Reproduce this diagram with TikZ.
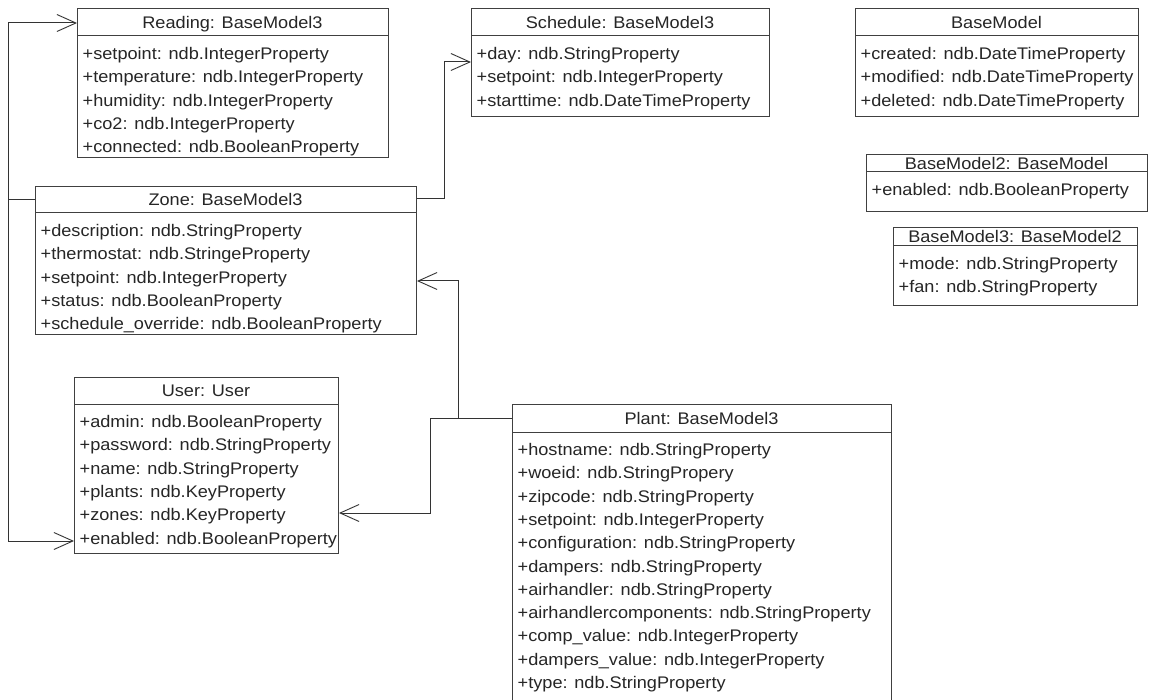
\documentclass[tikz,border=0pt]{standalone}
\usepackage{fontspec}
\setmainfont{Liberation Sans}[FakeStretch=1.08]
\usetikzlibrary{arrows.meta, positioning}

% #1 name, #2 left, #3 top, #4 width, #5 height, #6 header height, #7 title, #8 rows
\newcommand{\umlclass}[8]{%
  \node[classbox, minimum width=#4pt, minimum height=#5pt, anchor=north west] (#1) at (#2,#3) {};
  \draw[headline] (#2,#3+#6) -- (#2+#4,#3+#6);
  \node[titletext] (#1-title) at (#2+#4/2,#3+#6/2+6.2) {#7};
  \foreach \row [count=\i] in {#8} {
    \node[rowtext] (#1-\i) at ({#2+5.5},{#3+#6+23.5+(\i-1)*23.3}) {\row};
  }
}

\begin{document}
\begin{tikzpicture}[x=1pt, y=-1pt,
  classbox/.style={draw=black!75, line width=1pt, fill=white, inner sep=0pt},
  headline/.style={draw=black!75, line width=1pt},
  titletext/.style={inner sep=0pt, anchor=base, font=\fontsize{16.8}{20}\selectfont, text=black!85},
  rowtext/.style={inner sep=0pt, anchor=base west, font=\fontsize{16.8}{20}\selectfont, text=black!85},
  assoc/.style={draw=black!80, line width=1pt, -{Straight Barb[length=19pt, width=17pt, line width=0.9pt]}}]

\fill[white] (0,0) rectangle (1150,700);
\useasboundingbox (0,0) rectangle (1150,700);

\umlclass{reading}{77}{8}{311}{149}{28}{Reading: BaseModel3}{+setpoint: ndb.IntegerProperty, +temperature: ndb.IntegerProperty, +humidity: ndb.IntegerProperty, +co2: ndb.IntegerProperty, +connected: ndb.BooleanProperty}
\umlclass{schedule}{471}{8}{298}{108}{28}{Schedule: BaseModel3}{+day: ndb.StringProperty, +setpoint: ndb.IntegerProperty, +starttime: ndb.DateTimeProperty}
\umlclass{basemodel}{855}{8}{283}{108}{28}{BaseModel}{+created: ndb.DateTimeProperty, +modified: ndb.DateTimeProperty, +deleted: ndb.DateTimeProperty}
\umlclass{basemodeltwo}{866}{154}{281}{57}{18}{BaseModel2: BaseModel}{+enabled: ndb.BooleanProperty}
\umlclass{basemodelthree}{893}{227}{244}{78}{19}{BaseModel3: BaseModel2}{+mode: ndb.StringProperty, +fan: ndb.StringProperty}
\umlclass{zone}{35}{186}{381}{148}{27}{Zone: BaseModel3}{+description: ndb.StringProperty, +thermostat: ndb.StringeProperty, +setpoint: ndb.IntegerProperty, +status: ndb.BooleanProperty, +schedule\_override: ndb.BooleanProperty}
\umlclass{user}{74}{377}{264}{176}{27}{User: User}{+admin: ndb.BooleanProperty, +password: ndb.StringProperty, +name: ndb.StringProperty, +plants: ndb.KeyProperty, +zones: ndb.KeyProperty, +enabled: ndb.BooleanProperty}
\umlclass{plant}{512}{404}{379}{298}{28}{Plant: BaseModel3}{+hostname: ndb.StringProperty, +woeid: ndb.StringPropery, +zipcode: ndb.StringProperty, +setpoint: ndb.IntegerProperty, +configuration: ndb.StringProperty, +dampers: ndb.StringProperty, +airhandler: ndb.StringProperty, +airhandlercomponents: ndb.StringProperty, +comp\_value: ndb.IntegerProperty, +dampers\_value: ndb.IntegerProperty, +type: ndb.StringProperty}

% associations
\coordinate (lbus) at (8,200);
\coordinate (rbus) at (444,199);
\coordinate (pbus) at (458,418);
\coordinate (ubus) at (430,418);
\draw[assoc] (zone.west |- lbus) -- (lbus) |- (reading.west |- 0,23);
\draw[assoc] (lbus) |- (user.west |- 0,541);
\draw[assoc] (zone.east |- rbus) -- (rbus) |- (schedule.west |- 0,62);
\draw[assoc] (plant.west |- pbus) -- (ubus) |- (user.east |- 0,513);
\draw[assoc] (pbus) |- (zone.east |- 0,281);

\end{tikzpicture}
\end{document}
